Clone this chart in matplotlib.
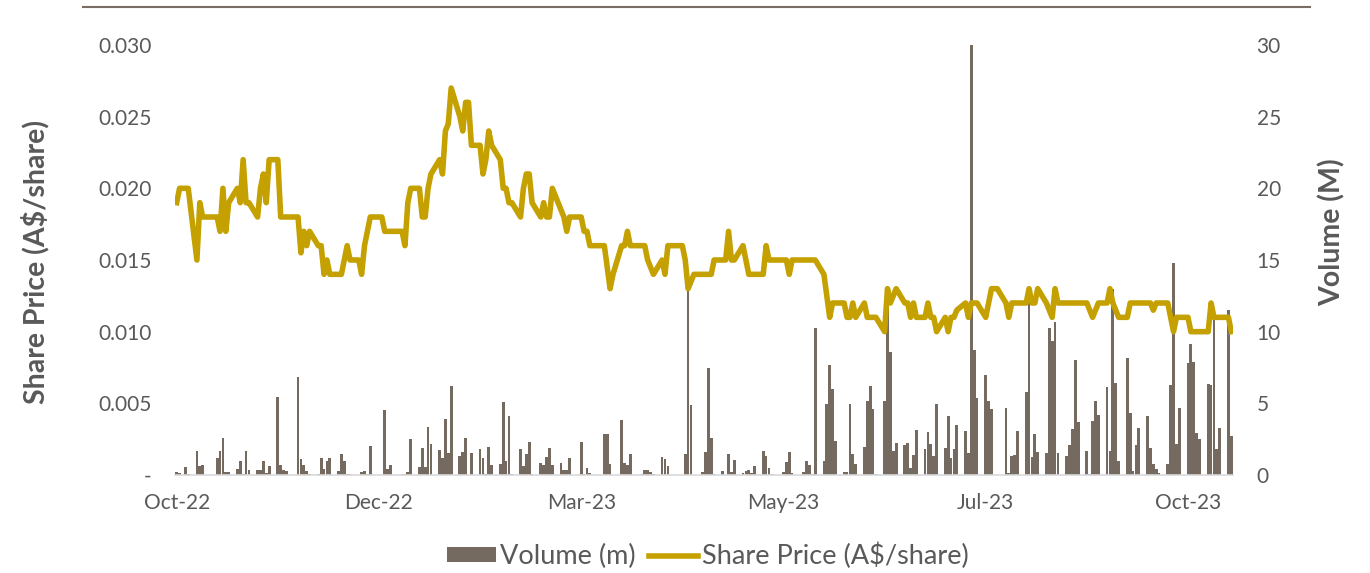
import numpy as np
import pandas as pd
import matplotlib
matplotlib.use("Agg")
import matplotlib.pyplot as plt
import matplotlib.dates as mdates
from matplotlib.patches import Patch
from matplotlib.lines import Line2D

plt.rcParams['font.family'] = ['Lato', 'DejaVu Sans']

# trading days, Mon 17-Oct-2022 .. Tue 17-Oct-2023 (one row per week below)
dates = pd.bdate_range('2022-10-17', '2023-10-17')

# share price, A$ x 1000 (i.e. tenths of a cent)
price_milli = [
    19, 20, 20, 20, 20,
    15, 19, 18, 18, 18,
    18, 17, 20, 17, 19,
    20, 19, 22, 19, 19,
    18, 20, 21, 19, 22,
    22, 18, 18, 18, 18,
    18, 15.5, 17, 16, 17,
    16, 16, 14, 15, 14,
    14, 14, 15, 16, 15,
    15, 14, 16, 17, 18,
    18, 18, 17, 17, 17,
    17, 17, 16, 19, 20,
    20, 18, 18, 20, 21,
    22, 21, 24, 24.5, 27,
    25, 24, 26, 26, 23,
    23, 21, 22, 24, 23,
    22, 20, 20, 19, 19,
    18, 20, 21, 21, 19,
    18, 19, 18, 18, 20,
    18.5, 18, 17, 18, 18,
    18, 17, 17, 16, 16,
    16, 16, 14.5, 13, 14,
    16, 16, 17, 16, 16,
    16, 16, 15, 14.5, 14,
    15, 14, 16, 16, 16,
    16, 15, 13, 13.5, 14,
    14, 14, 14, 14, 15,
    15, 15, 17, 15, 15,
    16, 15, 14, 14, 14,
    14, 16, 15, 15, 15,
    15, 15, 14, 15, 15,
    15, 15, 15, 15, 15,
    14, 12.5, 11, 12, 12,
    12, 11, 11, 12, 11,
    12, 11, 11, 11, 11,
    10, 13, 12, 12.5, 13,
    12, 12, 11, 12, 11,
    11, 12, 11, 11, 10,
    11, 10, 11, 11, 11.5,
    12, 11, 12, 12, 12,
    11, 12, 13, 13, 13,
    12, 11, 12, 12, 12,
    12, 13, 12, 12, 13,
    12, 11.5, 11, 13, 12,
    12, 12, 12, 12, 12,
    12, 11.5, 11, 11.5, 12,
    12, 13, 12, 11.5, 11,
    11, 12, 12, 12, 12,
    12, 12, 11.5, 12, 12,
    12, 11, 10, 11, 11,
    11, 10, 10, 10, 10,
    10, 12, 11, 11, 11,
    11, 10,
]
price = np.array(price_milli) / 1000.0

# daily volume, millions of shares
volume = [
    0.2, 0.15, 0.0, 0.56, 0.05,
    1.67, 0.63, 0.7, 0.0, 0.0,
    1.16, 1.67, 2.56, 0.2, 0.2,
    0.44, 0.98, 0.1, 1.67, 0.35,
    0.33, 0.33, 0.98, 0.15, 0.6,
    5.44, 0.7, 0.35, 0.25, 0.0,
    6.84, 1.1, 0.7, 0.25, 0.05,
    0.1, 1.16, 0.4, 0.98, 1.16,
    0.25, 1.44, 0.98, 0.1, 0.05,
    0.0, 0.2, 0.25, 0.05, 2.02,
    0.0, 0.0, 4.51, 0.42, 0.67,
    0.0, 0.1, 0.1, 0.2, 2.49,
    0.56, 1.91, 0.56, 3.35, 2.14,
    1.72, 1.2, 3.9, 1.53, 6.2,
    1.36, 1.6, 2.56, 0.0, 1.56,
    1.84, 1.16, 0.1, 1.95, 0.7,
    0.74, 5.12, 0.98, 4.12, 0.05,
    1.79, 0.63, 1.49, 2.33, 0.05,
    0.84, 0.7, 1.26, 1.86, 0.67,
    0.84, 0.33, 0.33, 1.2, 0.0,
    2.3, 0.1, 0.47, 0.14, 0.0,
    0.0, 2.84, 2.84, 0.79, 0.0,
    3.86, 0.84, 0.7, 1.44, 0.0,
    0.05, 0.37, 0.37, 0.2, 0.05,
    1.28, 1.14, 0.6, 0.0, 0.0,
    0.0, 1.49, 13.5, 4.86, 0.0,
    0.23, 1.6, 7.5, 2.6, 0.1,
    0.28, 0.0, 1.49, 0.23, 1.02,
    0.16, 0.28, 0.33, 0.14, 0.65,
    1.67, 1.3, 0.47, 0.05, 0.0,
    0.23, 0.91, 1.58, 0.14, 0.0,
    0.23, 0.98, 0.7, 0.1, 10.24,
    0.98, 4.93, 7.65, 6.0, 2.37,
    0.23, 0.23, 4.98, 1.44, 0.74,
    1.95, 5.17, 6.24, 4.63, 0.1,
    5.17, 13.0, 8.6, 1.67, 2.26,
    2.1, 2.2, 0.51, 1.4, 3.12,
    1.8, 3.0, 2.16, 1.3, 4.98,
    1.88, 4.1, 1.21, 1.8, 3.46,
    3.1, 1.55, 30.0, 8.7, 5.4,
    6.95, 5.16, 4.58, 0.0, 0.0,
    4.65, 0.16, 1.33, 1.4, 3.07,
    5.8, 12.3, 1.26, 2.84, 1.63,
    1.56, 10.24, 9.35, 10.68, 1.56,
    1.33, 2.1, 3.19, 8.0, 3.72,
    1.68, 0.05, 3.77, 5.16, 4.19,
    6.14, 1.68, 13.0, 6.44, 0.98,
    8.14, 4.35, 0.28, 2.1, 3.3,
    4.12, 1.86, 0.74, 0.4, 0.16,
    0.79, 6.28, 14.8, 2.14, 4.7,
    7.84, 9.16, 7.9, 2.96, 2.49,
    6.37, 6.28, 11.0, 1.79, 3.3,
    11.5, 2.72,
]

price_ticks = [0, 0.005, 0.010, 0.015, 0.020, 0.025, 0.030]
price_tick_labels = ['-', '0.005', '0.010', '0.015', '0.020', '0.025', '0.030']
volume_ticks = [0, 5, 10, 15, 20, 25, 30]
date_ticks = pd.date_range('2022-10-17', periods=6, freq='70D')

bar_col = '#756A60'
line_col = '#C4A000'
txt_col = '#595959'

fig = plt.figure(figsize=(13.7, 5.73), dpi=100)
ax = fig.add_axes([175 / 1370, 98 / 573, (1233 - 175) / 1370, 430 / 573])
ax2 = ax.twinx()

# volume bars on the right axis, price line on top
ax2.bar(dates, volume, width=0.95, color=bar_col, zorder=1)
ax.plot(dates, price, color=line_col, lw=4.0, solid_joinstyle='round', zorder=3)
ax.set_zorder(ax2.get_zorder() + 1)
ax.patch.set_visible(False)

ax.set_xlim(dates[0] - pd.Timedelta(hours=14), dates[-1] + pd.Timedelta(hours=14))
ax.set_ylim(0, 0.030)
ax2.set_ylim(0, 30)

ax.set_yticks(price_ticks)
ax.set_yticklabels(price_tick_labels)
ax2.set_yticks(volume_ticks)
ax.set_xticks(date_ticks)
ax.xaxis.set_major_formatter(mdates.DateFormatter('%b-%y'))

for a in (ax, ax2):
    for s in a.spines.values():
        s.set_visible(False)
    a.tick_params(length=0, labelsize=15, colors=txt_col)
ax.spines['bottom'].set_visible(True)
ax.spines['bottom'].set_color('#D9D9D9')
ax.spines['bottom'].set_linewidth(1.2)
ax.tick_params(axis='y', pad=17)
ax2.tick_params(axis='y', pad=17)
ax.tick_params(axis='x', pad=13)

fig.text(35 / 1370, 1 - 262 / 573, 'Share Price (A$/share)', rotation=90,
         ha='center', va='center', fontsize=20.5, fontweight='bold', color=txt_col)
fig.text(1332 / 1370, 1 - 232 / 573, 'Volume (M)', rotation=90,
         ha='center', va='center', fontsize=20.5, fontweight='bold', color=txt_col)

# rule across the top of the slide
fig.add_artist(Line2D([83 / 1370, 1310 / 1370], [1 - 7 / 573, 1 - 7 / 573],
                      color='#7A6E64', lw=1.5))

handles = [Patch(facecolor=bar_col, edgecolor='none'),
           Line2D([], [], color=line_col, lw=4.0)]
fig.legend(handles, ['Volume (m)', 'Share Price (A$/share)'], loc='center',
           bbox_to_anchor=(708 / 1370, 17 / 573), ncol=2, frameon=False,
           fontsize=19.5, labelcolor=txt_col, handlelength=1.8, handleheight=0.5,
           handletextpad=0.15, columnspacing=0.5)

fig.savefig('out.png', dpi=100)
